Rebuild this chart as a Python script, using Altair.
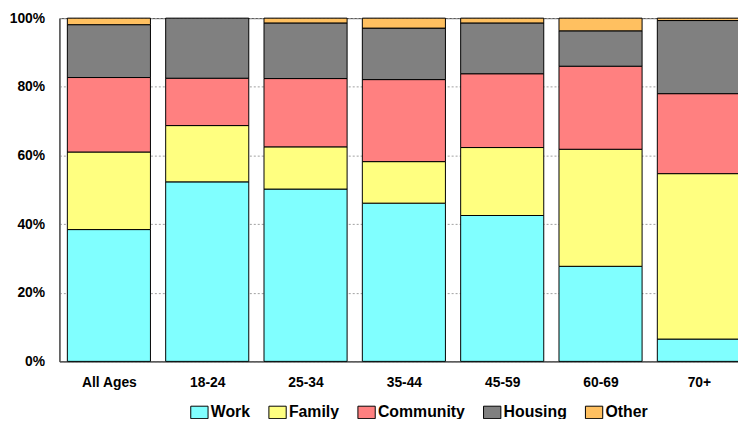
import json
import altair as alt
import pandas as pd

categories = ["All Ages", "18-24", "25-34", "35-44", "45-59", "60-69", "70+"]
series = ["Work", "Family", "Community", "Housing", "Other"]
work = [38.4, 52.3, 50.2, 46.1, 42.5, 27.7, 6.5]
family = [22.6, 16.4, 12.3, 12.1, 19.8, 34.1, 48.2]
community = [21.7, 13.8, 19.9, 23.9, 21.5, 24.2, 23.3]
housing = [15.4, 17.5, 16.2, 15.0, 14.8, 10.3, 21.3]
other = [1.9, 0.0, 1.4, 2.9, 1.4, 3.7, 0.7]
colors = ["#80FFFF", "#FFFF80", "#FF8080", "#808080", "#FFC060"]
y_ticks = [0, 20, 40, 60, 80, 100]

values = [work, family, community, housing, other]
rows = []
for si, (s, vals) in enumerate(zip(series, values)):
    for ci, (c, v) in enumerate(zip(categories, vals)):
        rows.append({"age": c, "idx": ci, "reason": s, "value": v, "ord": si})
df = pd.DataFrame(rows)

FONT = "Liberation Sans"
label_expr = json.dumps(categories) + "[datum.value]"

chart = alt.Chart(df).transform_filter(
    alt.datum.value > 0
).mark_bar(stroke="#000000", strokeWidth=1, width=84).encode(
    x=alt.X(
        "idx:Q",
        scale=alt.Scale(domain=[-0.503, 6.398], nice=False, zero=False, padding=0),
        axis=alt.Axis(
            title=None, values=list(range(len(categories))), labelExpr=label_expr,
            labelAngle=0, ticks=False, labelPadding=14,
            labelFont=FONT, labelFontSize=14, labelFontWeight="bold",
            labelColor="#000000", domainColor="#404040", domainWidth=1,
            grid=False, labelFlush=False, labelOverlap=False,
        ),
    ),
    y=alt.Y(
        "value:Q",
        stack="zero",
        scale=alt.Scale(domain=[0, 100], nice=False, padding=0),
        axis=alt.Axis(
            title=None, values=y_ticks, ticks=False, labelPadding=15,
            labelExpr="datum.value + '%'",
            labelFont=FONT, labelFontSize=14, labelFontWeight="bold",
            labelColor="#000000", domainColor="#404040", domainWidth=1,
            grid=True, gridColor="#a0a0a0", gridDash=[2, 2], gridWidth=1,
        ),
    ),
    color=alt.Color(
        "reason:N",
        sort=series,
        scale=alt.Scale(domain=series, range=colors),
        legend=alt.Legend(
            title=None, orient="none", direction="horizontal",
            legendX=132, legendY=389,
            symbolType="M-1,-0.72H1V0.72H-1Z", symbolSize=306,
            symbolStrokeColor="#000000", symbolStrokeWidth=1, symbolOpacity=1,
            labelFont=FONT, labelFontSize=16, labelFontWeight="bold",
            labelColor="#000000", labelOffset=2, columnPadding=16,
        ),
    ),
    order=alt.Order("ord:Q", sort="ascending"),
).properties(
    width=686,
    height=347,
    autosize=alt.AutoSizeParams(type="none"),
    padding={"left": 52, "top": 8, "right": 0, "bottom": 56},
).configure_view(
    stroke="#404040", strokeWidth=1,
)

chart.save("out.html", embed_options={"renderer": "svg", "actions": False})
